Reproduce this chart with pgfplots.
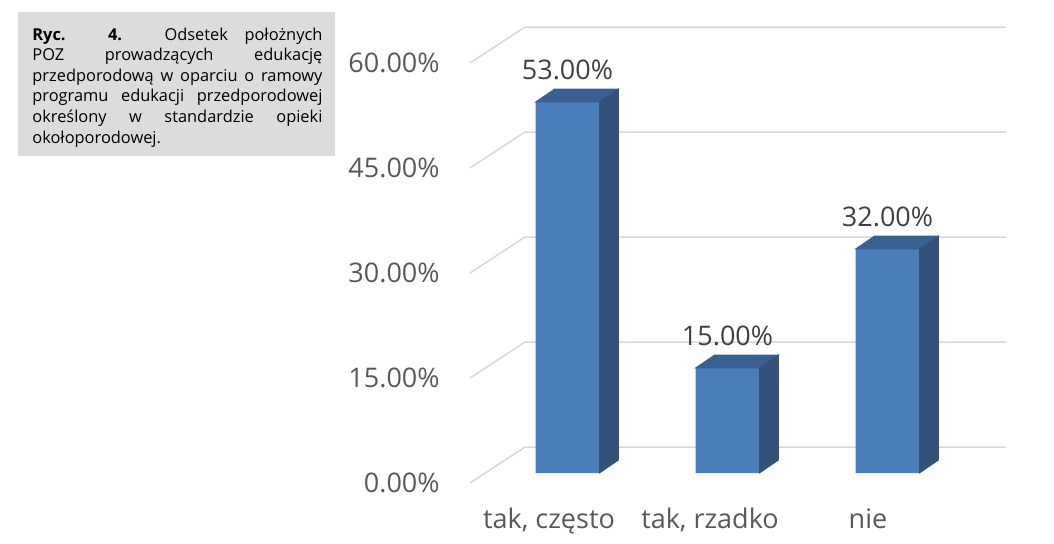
\documentclass[border=0pt]{standalone}
\usepackage{fontspec}
\setmainfont{Open Sans}
\usepackage{pgfplots}
\pgfplotsset{compat=1.18}

\definecolor{barfront}{RGB}{74,126,187}
\definecolor{barside}{RGB}{50,82,124}
\definecolor{bartop}{RGB}{58,96,146}
\definecolor{gridc}{RGB}{217,217,217}
\definecolor{tickc}{RGB}{89,89,89}
\definecolor{labc}{RGB}{64,64,64}
\definecolor{capbg}{RGB}{220,220,220}

\newcommand{\bigf}{\fontsize{13.5}{16}\selectfont}

\begin{document}
\begin{tikzpicture}
% caption box
\fill[capbg] (9pt,-6pt) rectangle (167.5pt,-78pt);
\node[anchor=north west, inner sep=0pt, text width=145pt, align=justify,
      font=\fontsize{8.2}{10.3}\selectfont] at (16pt,-13.6pt)
  {\textbf{Ryc.} \textbf{4.} Odsetek położnych\linebreak
   POZ prowadzących edukację\linebreak
   przedporodową w oparciu o ramowy\linebreak
   programu edukacji przedporodowej\linebreak
   określony w standardzie opieki\linebreak
   okołoporodowej.};

\begin{axis}[
  at={(235pt,-236.5pt)}, anchor=south west,
  scale only axis, width=268pt, height=210pt,
  xmin=-0.6094, xmax=2.7406, ymin=0, ymax=60,
  set layers, clip=false,
  axis line style={draw=none}, major tick length=0pt,
  /pgf/number format/assume math mode=true,
  ytick={0,15,30,45,60},
  yticklabel={\pgfmathprintnumber[fixed,fixed zerofill,precision=2]{\tick}\%},
  yticklabel style={anchor=east, inner sep=0pt, xshift=-15pt, yshift=-5pt,
                    text=tickc, font=\bigf},
  xtick={-0.1156,0.8906,1.878},
  xticklabels={{tak, często},{tak, rzadko},nie},
  xticklabel style={anchor=base, inner sep=0pt, yshift=-27.5pt,
                    text=tickc, font=\bigf},
]
% floor slants and back-wall grid
\pgfplotsinvokeforeach{0,15,30,45,60}{
  \draw[gridc, line width=0.75pt, on layer=axis background]
    ([yshift=-5pt]axis cs:-0.6094,#1) -- ([yshift=13pt]axis cs:-0.2656,#1)
    -- ([yshift=13pt]axis cs:2.7406,#1);
}

% front faces
\addplot[ybar, bar width=32pt, bar shift=0pt, fill=barfront, draw=none,
  nodes near coords={\pgfmathprintnumber[fixed,fixed zerofill,precision=2]{\pgfplotspointmeta}\%},
  nodes near coords style={inner sep=0pt, yshift=11pt, text=labc, font=\bigf}]
  coordinates {(0,53) (1,15) (2,32)};

% top and side faces
\addplot[only marks, scatter, mark=text, text mark={},
  visualization depends on={rawy \as \rawy},
  scatter/@pre marker code/.code={
    \pgfmathsetmacro\hh{\rawy*3.5}
    \fill[bartop] (-16pt,0pt) -- (16pt,0pt) -- (25.5pt,6.5pt) -- (-6.5pt,6.5pt) -- cycle;
    \fill[barside] (16pt,0pt) -- (25.5pt,6.5pt) -- (25.5pt,6.5pt-\hh pt) -- (16pt,-\hh pt) -- cycle;
  },
  scatter/@post marker code/.code={}]
  coordinates {(0,53) (1,15) (2,32)};
\end{axis}
\pgfresetboundingbox
\path[use as bounding box] (0,0) rectangle (527pt,-271.5pt);
\end{tikzpicture}
\end{document}
